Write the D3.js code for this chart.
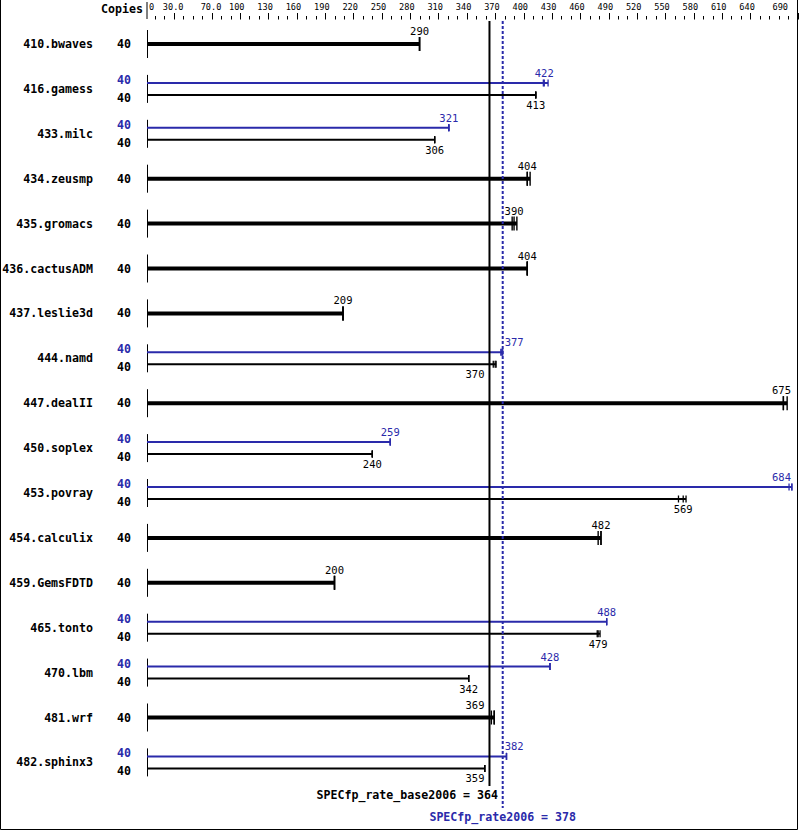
<!DOCTYPE html>
<html><head><meta charset="utf-8">
<script src="https://cdn.jsdelivr.net/npm/d3@7"></script>
<style>body{margin:0;background:#fff}svg{display:block}</style>
</head><body><svg id="c" width="799" height="831"></svg>
<script>
const benchmarks = ["410.bwaves","416.gamess","433.milc","434.zeusmp","435.gromacs","436.cactusADM","437.leslie3d","444.namd","447.dealII","450.soplex","453.povray","454.calculix","459.GemsFDTD","465.tonto","470.lbm","481.wrf","482.sphinx3"];
const baseCopies = [40,40,40,40,40,40,40,40,40,40,40,40,40,40,40,40,40];
const peakCopies = [null,40,40,null,null,null,null,40,null,40,40,null,null,40,40,null,40];
const baseMedian = [290,413,306,404,390,404,209,370,675,240,569,482,200,479,342,369,359];
const peakMedian = [null,422,321,null,null,null,null,377,null,259,684,null,null,488,428,null,382];
const baseRuns = [[290,290,290],[413,413,413],[306,306,306],[404,404,407],[388,390,393],[404,404,404],[209,209,209],[368,370,371],[675,675,679],[240,240,240],[564,569,572],[479,482,482],[200,200,200],[478,479,481],[342,342,342],[366,369,369],[359,359,359]];
const peakRuns = [null,[421,422,426],[321,321,321],null,null,null,null,[376,377,378],null,[259,259,259],[681,684,684],null,null,[488,488,488],[428,428,428],null,[382,382,382]];
const tickValues = [0,30,70,100,130,160,190,220,250,280,310,340,370,400,430,460,490,520,550,580,610,640,690];
const tickLabels = ["0","30.0","70.0","100","130","160","190","220","250","280","310","340","370","400","430","460","490","520","550","580","610","640","690"];
const baseMean = 364, peakMean = 378;
const baseMeanLabel = "SPECfp_rate_base2006 = 364";
const peakMeanLabel = "SPECfp_rate2006 = 378";

const BLUE = "#2a2aaa";
const MONO = "'DejaVu Sans Mono', monospace";
const svg = d3.select("#c");
svg.append("rect").attr("width",799).attr("height",831).attr("fill","#fff");
svg.append("path").attr("d","M0.5,0 V829.5 H797.5 V0").attr("fill","none").attr("stroke","#000").attr("stroke-width",1);

const x = d3.scaleLinear().domain([0, 690]).range([145.5, 145.5 + 0.945*690]);
const y = d3.scalePoint().domain(benchmarks).range([44, 44 + 44.9*16]);
const x0 = 147;

svg.append("text").attr("x",143).attr("y",13).attr("text-anchor","end")
  .attr("font-family",MONO).attr("font-weight","bold").attr("font-size","11.6px").text("Copies");
svg.append("line").attr("x1",x0).attr("x2",x0).attr("y1",2).attr("y2",19).attr("stroke","#000");

const minor = d3.range(10, 690, 10).filter(v => !tickValues.includes(v));
svg.selectAll(".mi").data(minor).enter().append("line")
  .attr("x1",d=>Math.round(x(d))+0.5).attr("x2",d=>Math.round(x(d))+0.5).attr("y1",16).attr("y2",19.5).attr("stroke","#000");
svg.selectAll(".ma").data(tickValues.filter(v=>v>0)).enter().append("line")
  .attr("x1",d=>Math.round(x(d))+0.5).attr("x2",d=>Math.round(x(d))+0.5).attr("y1",13).attr("y2",19.5).attr("stroke","#000");
svg.selectAll(".tl").data(tickValues).enter().append("text")
  .attr("y",10).attr("font-family",MONO).attr("font-size","8.6px").text((d,i)=>tickLabels[i])
  .each(function(d){
    const w = this.getComputedTextLength();
    let px = Math.max(149, x(d) - 11);
    if (px + w > 788) px = 788 - w;
    d3.select(this).attr("x", px);
  });

const vlabels = [];
benchmarks.forEach((b,i) => {
  const cy = y(b);
  const pair = peakMedian[i] != null;
  svg.append("text").attr("x",93).attr("y",cy+4).attr("text-anchor","end")
    .attr("font-family",MONO).attr("font-weight","bold").attr("font-size","11.6px").text(b);
  svg.append("line").attr("x1",x0+0.5).attr("x2",x0+0.5).attr("y1",cy-14).attr("y2",cy+14).attr("stroke","#000");
  if (pair) {
    const py = cy-6, by = cy+6;
    svg.append("text").attr("x",131).attr("y",cy-5).attr("text-anchor","end").attr("fill",BLUE)
      .attr("font-family",MONO).attr("font-weight","bold").attr("font-size","11.6px").text(peakCopies[i]);
    svg.append("text").attr("x",131).attr("y",cy+13).attr("text-anchor","end")
      .attr("font-family",MONO).attr("font-weight","bold").attr("font-size","11.6px").text(baseCopies[i]);
    const pmax = d3.max(peakRuns[i]);
    svg.append("line").attr("x1",x0).attr("x2",x(pmax)).attr("y1",py).attr("y2",py).attr("stroke",BLUE).attr("stroke-width",2);
    peakRuns[i].forEach(r => svg.append("line").attr("x1",x(r)).attr("x2",x(r)).attr("y1",py-3.5).attr("y2",py+3.5).attr("stroke",BLUE).attr("stroke-width",1.3));
    vlabels.push({v:peakMedian[i], y:py-6, color:BLUE, kind:"peak"});
    const bmax = d3.max(baseRuns[i]);
    svg.append("line").attr("x1",x0).attr("x2",x(bmax)).attr("y1",by).attr("y2",by).attr("stroke","#000").attr("stroke-width",2);
    baseRuns[i].forEach(r => svg.append("line").attr("x1",x(r)).attr("x2",x(r)).attr("y1",by-3.5).attr("y2",by+3.5).attr("stroke","#000").attr("stroke-width",1.3));
    vlabels.push({v:baseMedian[i], y:by+14, color:"#000", kind:"base"});
  } else {
    svg.append("text").attr("x",131).attr("y",cy+4).attr("text-anchor","end")
      .attr("font-family",MONO).attr("font-weight","bold").attr("font-size","11.6px").text(baseCopies[i]);
    const bmax = d3.max(baseRuns[i]);
    svg.append("line").attr("x1",x0).attr("x2",x(bmax)).attr("y1",cy).attr("y2",cy).attr("stroke","#000").attr("stroke-width",4);
    baseRuns[i].forEach(r => svg.append("line").attr("x1",x(r)).attr("x2",x(r)).attr("y1",cy-7).attr("y2",cy+7).attr("stroke","#000").attr("stroke-width",1.4));
    vlabels.push({v:baseMedian[i], y:cy-9, color:"#000", kind:"base"});
  }
});

const xb = x(baseMean), xp = x(peakMean);
svg.append("line").attr("x1",xb).attr("x2",xb).attr("y1",21).attr("y2",786).attr("stroke","#000").attr("stroke-width",2);
svg.append("line").attr("x1",xp).attr("x2",xp).attr("y1",21).attr("y2",808).attr("stroke",BLUE).attr("stroke-width",2).attr("stroke-dasharray","3,2");

vlabels.forEach(l => {
  const t = svg.append("text").attr("y",l.y).attr("fill",l.color)
    .attr("font-family",MONO).attr("font-size","10.5px").text(l.v);
  const w = t.node().getComputedTextLength();
  let px = x(l.v) - w/2;
  if (l.kind === "base") {
    if (px < xb + 2 && px + w > xb - 2) px = xb - 5 - w;
  } else {
    if (px < xp + 2 && px + w > xp - 2) px = xp + 2;
  }
  if (px + w > 791) px = 791 - w;
  t.attr("x", px);
});

svg.append("text").attr("x",498).attr("y",799).attr("text-anchor","end")
  .attr("font-family",MONO).attr("font-weight","bold").attr("font-size","11.6px").text(baseMeanLabel);
svg.append("text").attr("x",xp).attr("y",821).attr("text-anchor","middle").attr("fill",BLUE)
  .attr("font-family",MONO).attr("font-weight","bold").attr("font-size","11.6px").text(peakMeanLabel);
</script></body></html>
